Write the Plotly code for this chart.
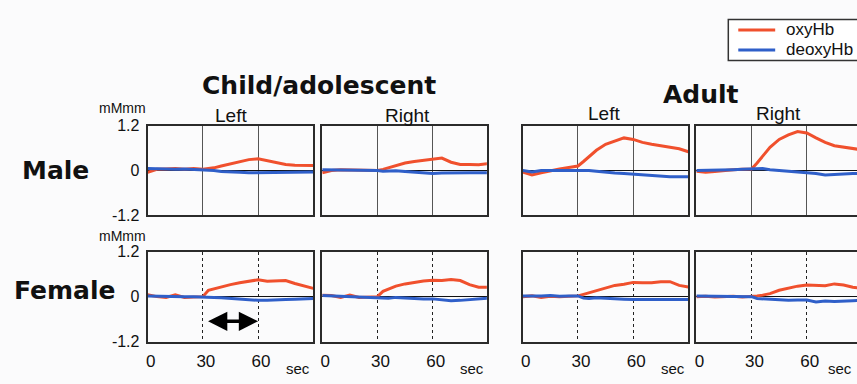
import plotly.graph_objects as go

# ---------------- data ----------------
time_s = [0, 5, 10, 15, 20, 25, 30, 33, 36, 40, 45, 50, 55, 60, 65, 70, 75, 80, 85, 90]

child_male_left_oxy = [-0.05, 0.03, 0.04, 0.05, 0.03, 0.05, 0.03, 0.04, 0.07, 0.12, 0.18, 0.24, 0.29, 0.31, 0.26, 0.20, 0.16, 0.14, 0.13, 0.13]
child_male_left_deoxy = [0.05, 0.04, 0.04, 0.03, 0.04, 0.03, 0.03, 0.02, 0.0, -0.03, -0.05, -0.05, -0.06, -0.06, -0.05, -0.05, -0.04, -0.04, -0.04, -0.04]
child_male_right_oxy = [-0.06, 0.0, 0.02, 0.01, 0.02, 0.0, 0.0, 0.03, 0.07, 0.12, 0.20, 0.24, 0.27, 0.29, 0.33, 0.22, 0.16, 0.16, 0.15, 0.18]
child_male_right_deoxy = [0.02, 0.02, 0.02, 0.01, 0.02, 0.01, 0.0, -0.02, -0.01, -0.01, -0.03, -0.05, -0.08, -0.08, -0.07, -0.06, -0.06, -0.06, -0.06, -0.06]
adult_male_left_oxy = [-0.04, -0.12, -0.06, 0.0, 0.04, 0.08, 0.12, 0.24, 0.36, 0.54, 0.70, 0.79, 0.87, 0.83, 0.75, 0.70, 0.66, 0.62, 0.58, 0.50]
adult_male_left_deoxy = [0.0, -0.04, 0.0, 0.0, 0.0, 0.01, 0.02, 0.01, 0.0, -0.02, -0.05, -0.07, -0.08, -0.10, -0.12, -0.15, -0.16, -0.17, -0.17, -0.17]
adult_male_right_oxy = [-0.02, -0.05, -0.03, 0.0, 0.02, 0.03, 0.04, 0.20, 0.38, 0.62, 0.83, 0.95, 1.04, 1.00, 0.87, 0.75, 0.66, 0.62, 0.58, 0.55]
adult_male_right_deoxy = [0.0, 0.0, 0.01, 0.02, 0.02, 0.03, 0.04, 0.05, 0.05, 0.02, 0.0, -0.02, -0.04, -0.05, -0.08, -0.12, -0.10, -0.09, -0.08, -0.08]

child_female_left_oxy = [0.05, 0.0, -0.02, 0.05, -0.02, -0.02, 0.0, 0.17, 0.21, 0.26, 0.32, 0.37, 0.41, 0.45, 0.41, 0.41, 0.43, 0.35, 0.28, 0.22]
child_female_left_deoxy = [0.02, 0.01, 0.0, 0.0, 0.0, 0.0, 0.0, -0.01, -0.02, -0.03, -0.05, -0.07, -0.09, -0.10, -0.10, -0.10, -0.08, -0.07, -0.06, -0.05]
child_female_right_oxy = [0.04, 0.03, -0.02, 0.04, -0.02, -0.02, 0.0, 0.14, 0.20, 0.28, 0.34, 0.38, 0.42, 0.44, 0.43, 0.46, 0.43, 0.32, 0.25, 0.25]
child_female_right_deoxy = [0.03, 0.02, 0.02, 0.01, 0.01, 0.0, -0.01, -0.03, -0.04, -0.02, -0.04, -0.05, -0.06, -0.06, -0.09, -0.11, -0.10, -0.08, -0.06, -0.04]
adult_female_left_oxy = [0.0, 0.02, -0.02, 0.01, 0.0, 0.01, 0.02, 0.06, 0.10, 0.15, 0.22, 0.30, 0.33, 0.38, 0.37, 0.37, 0.40, 0.40, 0.30, 0.26]
adult_female_left_deoxy = [0.02, 0.01, 0.02, 0.03, 0.01, 0.02, 0.02, -0.04, -0.05, -0.03, -0.05, -0.06, -0.07, -0.08, -0.08, -0.08, -0.09, -0.10, -0.09, -0.08]
adult_female_right_oxy = [0.0, 0.01, -0.01, 0.0, 0.01, -0.01, 0.0, 0.02, 0.04, 0.08, 0.17, 0.23, 0.28, 0.31, 0.31, 0.29, 0.34, 0.31, 0.25, 0.22]
adult_female_right_deoxy = [0.02, 0.02, 0.02, 0.02, 0.01, 0.01, 0.0, -0.05, -0.06, -0.06, -0.08, -0.10, -0.09, -0.09, -0.14, -0.12, -0.13, -0.13, -0.11, -0.10]

y_tick_vals = [-1.2, 0, 1.2]
y_tick_text = ["-1.2", "0", "1.2"]
x_tick_vals = [0, 30, 60]
x_tick_text = ["0", "30", "60"]
stim_window = [32, 60]   # double arrow in the female child-left panel

series_names = ["oxyHb", "deoxyHb"]
group_titles = ["Child/adolescent", "Adult"]
side_titles = ["Left", "Right"]
row_titles = ["Male", "Female"]
y_unit = "mMmm"
x_unit = "sec"

panels = [
    (child_male_left_oxy, child_male_left_deoxy),
    (child_male_right_oxy, child_male_right_deoxy),
    (adult_male_left_oxy, adult_male_left_deoxy),
    (adult_male_right_oxy, adult_male_right_deoxy),
    (child_female_left_oxy, child_female_left_deoxy),
    (child_female_right_oxy, child_female_right_deoxy),
    (adult_female_left_oxy, adult_female_left_deoxy),
    (adult_female_right_oxy, adult_female_right_deoxy),
]

# ---------------- layout geometry ----------------
W, H = 857, 384
col_px = [(146, 312), (321, 486), (522, 688), (696, 857)]
row_px = [(123, 217), (255, 349)]
x_full_span = 90.0
px_per_unit = (312 - 146) / x_full_span

RED = "#f0502d"
BLUE = "#2f5fc9"
SERIES_COLORS = [RED, BLUE]
FRAME = "#2b2b2b"
BG = "#fbfbfc"
FONT = "Liberation Sans, Arial, sans-serif"
BOLD = "DejaVu Sans, sans-serif"

fig = go.Figure()
layout = dict(
    width=W, height=H,
    margin=dict(l=0, r=0, t=0, b=0),
    paper_bgcolor=BG, plot_bgcolor=BG,
    showlegend=False,
)

for i, (oxy, deoxy) in enumerate(panels):
    r, c = divmod(i, 4)
    n = i + 1
    xa = "x" if n == 1 else f"x{n}"
    ya = "y" if n == 1 else f"y{n}"
    x0p, x1p = col_px[c]
    y0p, y1p = row_px[r]
    xmax = (x1p - x0p) / px_per_unit
    clipped = c == 3
    for name, vals, col in zip(series_names, (oxy, deoxy), SERIES_COLORS):
        fig.add_trace(go.Scatter(x=time_s, y=vals, mode="lines", name=name,
                                 line=dict(color=col, width=3), xaxis=xa, yaxis=ya))
    xkey = "xaxis" if n == 1 else f"xaxis{n}"
    ykey = "yaxis" if n == 1 else f"yaxis{n}"
    layout[xkey] = dict(
        domain=[x0p / W, x1p / W], range=[0, xmax], anchor=ya,
        showline=True, mirror=True, linecolor=FRAME, linewidth=2,
        tickvals=x_tick_vals, ticktext=x_tick_text, ticks="",
        showticklabels=(r == 1), ticklabelstandoff=3, ticklabelshift=3,
        tickfont=dict(family=FONT, size=17, color="#111"),
        showgrid=True,
        gridcolor="#555555" if r == 0 else "#222222",
        gridwidth=1.3, griddash="solid" if r == 0 else "dot",
        zeroline=False, fixedrange=True,
    )
    layout[ykey] = dict(
        domain=[1 - y1p / H, 1 - y0p / H], range=[-1.2, 1.2], anchor=xa,
        showline=True, mirror=(not clipped), linecolor=FRAME, linewidth=2,
        tickvals=y_tick_vals, ticktext=y_tick_text, ticks="",
        showticklabels=(c == 0), ticklabelstandoff=3,
        tickfont=dict(family=FONT, size=16, color="#111"),
        showgrid=False,
        zeroline=True, zerolinecolor="#111111", zerolinewidth=1.3,
        fixedrange=True,
    )

fig.update_layout(**layout)

def px_x(p):
    return p / W

def px_y(p):
    return 1 - p / H

ann = []
shapes = []
# group titles
for txt, xc, yc in [(group_titles[0], 318, 81), (group_titles[1], 701, 90)]:
    ann.append(dict(text=f"<b>{txt}</b>", x=px_x(xc), y=px_y(yc), xref="paper", yref="paper",
                    showarrow=False, xanchor="center", yanchor="middle",
                    font=dict(family=BOLD, size=25, color="#111")))
# row titles
for txt, xc, yc in [(row_titles[0], 54, 170), (row_titles[1], 63, 296)]:
    ann.append(dict(text=f"<b>{txt}</b>", x=px_x(xc), y=px_y(yc), xref="paper", yref="paper",
                    showarrow=False, xanchor="center", yanchor="middle",
                    font=dict(family=BOLD, size=25, color="#111")))
# Left / Right
for txt, xc, yc in [(side_titles[0], 230, 112), (side_titles[1], 406, 112),
                    (side_titles[0], 603, 110), (side_titles[1], 778, 110)]:
    ann.append(dict(text=txt, x=px_x(xc), y=px_y(yc), xref="paper", yref="paper",
                    showarrow=False, xanchor="center", yanchor="middle",
                    font=dict(family=FONT, size=19, color="#111")))
# units
for yc in (105, 239):
    ann.append(dict(text=y_unit, x=px_x(121), y=px_y(yc), xref="paper", yref="paper",
                    showarrow=False, xanchor="center", yanchor="middle",
                    font=dict(family=FONT, size=14, color="#111")))
for c in range(4):
    ann.append(dict(text=x_unit, x=px_x(min(col_px[c][1], W - 2) - 1), y=0, xref="paper", yref="paper",
                    showarrow=False, xanchor="right", yanchor="bottom", yshift=-4,
                    font=dict(family=FONT, size=15, color="#111")))
# double arrow (stimulus period)
ann.append(dict(x=stim_window[1], y=-0.66, ax=stim_window[0], ay=-0.66,
                xref="x5", yref="y5", axref="x5", ayref="y5", text="",
                showarrow=True, arrowhead=2, startarrowhead=2, arrowside="end+start",
                arrowsize=1.1, startarrowsize=1.1, arrowwidth=3.5, arrowcolor="#000"))

# legend box (top right, partly cut by the right edge like the reference)
shapes.append(dict(type="rect", xref="paper", yref="paper",
                   x0=px_x(728), x1=px_x(866), y0=px_y(55), y1=px_y(12),
                   line=dict(color="#333333", width=1.5), fillcolor="#ffffff", layer="above"))
for k, (name, col) in enumerate(zip(series_names, SERIES_COLORS)):
    yc = 23 + 21 * k
    shapes.append(dict(type="line", xref="paper", yref="paper",
                       x0=px_x(738), x1=px_x(775), y0=px_y(yc), y1=px_y(yc),
                       line=dict(color=col, width=3), layer="above"))
    ann.append(dict(text=name, x=px_x(784), y=px_y(yc - 1), xref="paper", yref="paper",
                    showarrow=False, xanchor="left", yanchor="middle",
                    font=dict(family=FONT, size=17, color="#111")))

fig.update_layout(annotations=ann, shapes=shapes)
fig.write_html("out.html", config={"displayModeBar": False},
               post_script="document.body.style.margin='0';")
